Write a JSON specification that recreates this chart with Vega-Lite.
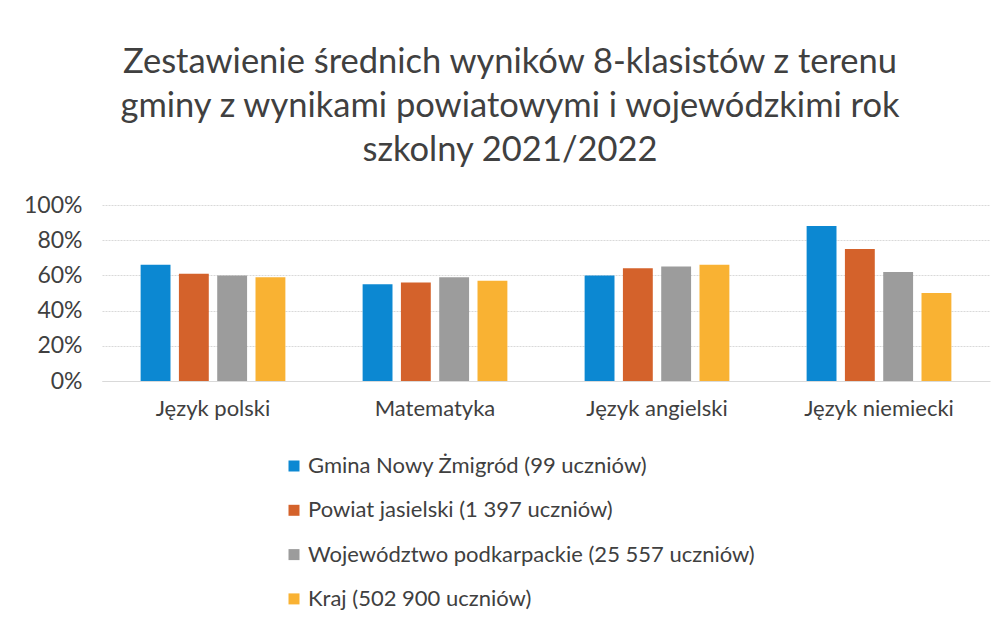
{
  "$schema": "https://vega.github.io/schema/vega-lite/v6.json",
  "autosize": "none",
  "width": 888,
  "height": 176,
  "padding": {"left": 102, "top": 205, "right": 17, "bottom": 246},
  "background": "white",
  "config": {"font": "Lato", "view": {"stroke": null}},
  "title": {
    "text": ["Zestawienie średnich wyników 8-klasistów z terenu", "gminy z wynikami powiatowymi i wojewódzkimi rok", "szkolny 2021/2022"],
    "fontSize": 34.5,
    "fontWeight": "normal",
    "color": "#404040",
    "lineHeight": 44,
    "anchor": "middle",
    "dx": -36,
    "offset": 26
  },
  "data": {
    "values": [
      {"przedmiot": "Język polski", "grupa": "Gmina Nowy Żmigród (99 uczniów)", "wynik": 0.66},
      {"przedmiot": "Język polski", "grupa": "Powiat jasielski (1 397 uczniów)", "wynik": 0.61},
      {"przedmiot": "Język polski", "grupa": "Województwo podkarpackie (25 557 uczniów)", "wynik": 0.60},
      {"przedmiot": "Język polski", "grupa": "Kraj (502 900 uczniów)", "wynik": 0.59},
      {"przedmiot": "Matematyka", "grupa": "Gmina Nowy Żmigród (99 uczniów)", "wynik": 0.55},
      {"przedmiot": "Matematyka", "grupa": "Powiat jasielski (1 397 uczniów)", "wynik": 0.56},
      {"przedmiot": "Matematyka", "grupa": "Województwo podkarpackie (25 557 uczniów)", "wynik": 0.59},
      {"przedmiot": "Matematyka", "grupa": "Kraj (502 900 uczniów)", "wynik": 0.57},
      {"przedmiot": "Język angielski", "grupa": "Gmina Nowy Żmigród (99 uczniów)", "wynik": 0.60},
      {"przedmiot": "Język angielski", "grupa": "Powiat jasielski (1 397 uczniów)", "wynik": 0.64},
      {"przedmiot": "Język angielski", "grupa": "Województwo podkarpackie (25 557 uczniów)", "wynik": 0.65},
      {"przedmiot": "Język angielski", "grupa": "Kraj (502 900 uczniów)", "wynik": 0.66},
      {"przedmiot": "Język niemiecki", "grupa": "Gmina Nowy Żmigród (99 uczniów)", "wynik": 0.88},
      {"przedmiot": "Język niemiecki", "grupa": "Powiat jasielski (1 397 uczniów)", "wynik": 0.75},
      {"przedmiot": "Język niemiecki", "grupa": "Województwo podkarpackie (25 557 uczniów)", "wynik": 0.62},
      {"przedmiot": "Język niemiecki", "grupa": "Kraj (502 900 uczniów)", "wynik": 0.50}
    ]
  },
  "mark": {"type": "bar"},
  "encoding": {
    "x": {
      "field": "przedmiot",
      "type": "nominal",
      "sort": ["Język polski", "Matematyka", "Język angielski", "Język niemiecki"],
      "scale": {"paddingInner": 0.31, "paddingOuter": 0.155},
      "axis": {
        "title": null,
        "labelAngle": 0,
        "labelFontSize": 22,
        "labelColor": "#404040",
        "labelPadding": 17,
        "ticks": false,
        "domainColor": "#d9d9d9"
      }
    },
    "xOffset": {
      "field": "grupa",
      "type": "nominal",
      "sort": ["Gmina Nowy Żmigród (99 uczniów)", "Powiat jasielski (1 397 uczniów)", "Województwo podkarpackie (25 557 uczniów)", "Kraj (502 900 uczniów)"],
      "scale": {"paddingInner": 0.22, "paddingOuter": 0.11}
    },
    "y": {
      "field": "wynik",
      "type": "quantitative",
      "scale": {"domain": [0, 1]},
      "axis": {
        "title": null,
        "values": [0, 0.2, 0.4, 0.6, 0.8, 1],
        "format": ".0%",
        "labelFontSize": 23,
        "labelColor": "#404040",
        "labelPadding": 20,
        "ticks": false,
        "domain": false,
        "gridColor": "#d9d9d9",
        "gridDash": [2, 1]
      }
    },
    "color": {
      "field": "grupa",
      "type": "nominal",
      "sort": ["Gmina Nowy Żmigród (99 uczniów)", "Powiat jasielski (1 397 uczniów)", "Województwo podkarpackie (25 557 uczniów)", "Kraj (502 900 uczniów)"],
      "scale": {"range": ["#0C88D2", "#D4622B", "#9C9C9C", "#F9B233"]},
      "legend": {
        "title": null,
        "orient": "none",
        "legendX": 181,
        "legendY": 250,
        "direction": "vertical",
        "symbolType": "square",
        "symbolSize": 121,
        "symbolStrokeWidth": 0,
        "labelFontSize": 22,
        "labelColor": "#404040",
        "labelLimit": 600,
        "rowPadding": 22.3,
        "labelOffset": 3
      }
    }
  }
}
